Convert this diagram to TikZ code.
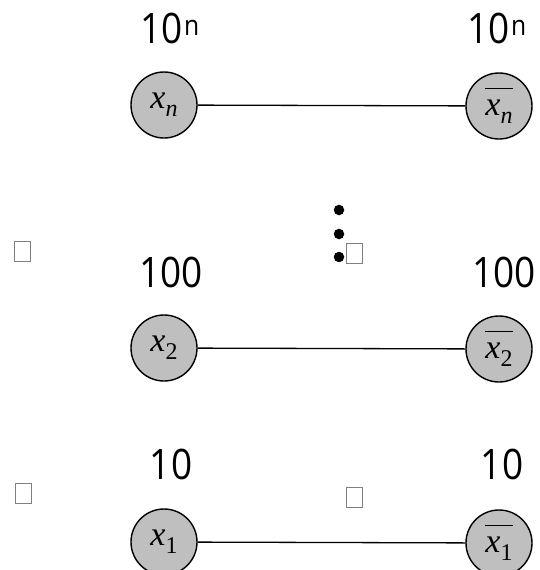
\documentclass[tikz,border=0pt]{standalone}
\usepackage{fontspec}
\setmainfont{Open Sans}
\newfontfamily\numf[FakeStretch=0.88]{Open Sans}
\newfontfamily\tms{Liberation Serif}
\newcommand{\vx}[1]{\hbox{{\tms\itshape\fontsize{34}{34}\selectfont x}\raisebox{-8pt}{\tms\fontsize{24}{24}\selectfont #1}}}
\newsavebox\xbox
\newcommand{\vxb}[1]{\sbox\xbox{\vx{#1}}\vbox{\hrule width\wd\xbox height 1pt\kern 11pt\copy\xbox}}
\newcommand{\pw}{\kern1pt\raisebox{8pt}{\fontsize{28}{28}\selectfont n}}
\begin{document}
\begin{tikzpicture}[x=1pt,y=-1pt,
  lit/.style={circle,draw=black,line width=1.4pt,fill=gray!50,minimum size=66pt,inner sep=0pt},
  wt/.style={font=\numf\fontsize{42}{42}\selectfont,inner sep=0pt},
  tofu/.style={draw=gray,line width=0.9pt,minimum width=16pt,minimum height=20pt,inner sep=0pt},
  dotn/.style={circle,fill=black,minimum size=10.5pt,inner sep=0pt},
  edge/.style={line width=1.3pt}]
\useasboundingbox (0,0) rectangle (539,570);
% top row
\node[wt] (wn) at (170,28) {10\pw};
\node[wt] (wnb) at (497,28) {10\pw};
\node[lit] (xn) at (164,105) {\vx{\itshape n}};
\node[lit] (xnb) at (499,106) {\vxb{\itshape n}};
\draw[edge] (xn) -- (xnb);
% dots
\node[dotn] (d1) at (339,210) {};
\node[dotn] (d2) at (339,234) {};
\node[dotn] (d3) at (339,257) {};
\node[tofu] (t1) at (22,251) {};
\node[tofu] (t2) at (354,253) {};
% middle row
\node[wt] (w2) at (171,272) {100};
\node[wt] (w2b) at (504,272) {100};
\node[lit] (x2) at (164,348) {\vx{2}};
\node[lit] (x2b) at (499,349) {\vxb{2}};
\draw[edge] (x2) -- (x2b);
% bottom row
\node[wt] (w1) at (171,464) {10};
\node[wt] (w1b) at (502,464) {10};
\node[tofu] (t3) at (23,493) {};
\node[tofu] (t4) at (354,497) {};
\node[lit] (x1) at (164,542) {\vx{1}};
\node[lit] (x1b) at (499,543) {\vxb{1}};
\draw[edge] (x1) -- (x1b);
\end{tikzpicture}
\end{document}
